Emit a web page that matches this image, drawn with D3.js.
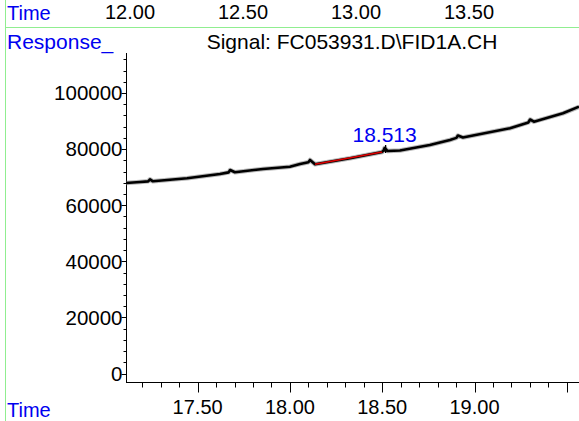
<!DOCTYPE html>
<html>
<head>
<meta charset="utf-8">
<script src="https://cdn.jsdelivr.net/npm/d3@7"></script>
<style>
	body { margin: 0; background: #fff; }
	text { font-family: "Liberation Sans", Arial, sans-serif; }
</style>
</head>
<body>
<svg id="chart" width="579" height="421"></svg>
<script>
// signal trace (minutes, counts)
const sigTime = [17.112, 17.188, 17.232, 17.242, 17.258, 17.443, 17.621, 17.668, 17.676, 17.702, 17.854, 18.000, 18.055, 18.100, 18.109, 18.136, 18.326, 18.500, 18.508, 18.513, 18.530, 18.596, 18.758, 18.867, 18.902, 18.910, 18.937, 19.192, 19.292, 19.301, 19.322, 19.479, 19.566];
const sigValue = [67900, 68270, 68500, 69230, 68520, 69590, 71120, 71700, 72550, 71730, 72910, 73730, 74690, 75300, 76120, 74580, 76720, 78970, 79600, 80400, 79300, 79500, 81460, 83240, 84000, 84850, 84140, 87420, 89500, 90550, 89770, 92760, 95110];

// integration baseline under the peak
const baseTime = [18.136, 18.5];
const baseValue = [74580, 78970];

const peakTime = 18.513;
const peakValue = 80400;
const peakLabel = "18.513";

const xTickLabels = [17.5, 18.0, 18.5, 19.0];
const yTickLabels = [0, 20000, 40000, 60000, 80000, 100000];
const topTickLabels = [12.0, 12.5, 13.0, 13.5];

const title = "Signal: FC053931.D\\FID1A.CH";

const svg = d3.select("#chart"),
	width = +svg.attr("width"),
	height = +svg.attr("height");

const blue = "#0000f0",
	green = "#90ee90",
	fs = 20;

const x = d3.scaleLinear().domain([17.112, 19.566]).range([126, 579]);
const y = d3.scaleLinear().domain([0, 114260]).range([373.5, 53]);
const xTop = d3.scaleLinear().domain([12.0, 13.5]).range([130, 469]);
const axisY = 382;

// green frame lines
svg.append("line")
	.attr("x1", 5.5).attr("x2", 5.5)
	.attr("y1", 0).attr("y2", height)
	.attr("stroke", green);
svg.append("line")
	.attr("x1", 5).attr("x2", width)
	.attr("y1", 27.5).attr("y2", 27.5)
	.attr("stroke", green);

// top time strip
svg.append("text")
	.attr("x", 7).attr("y", 20)
	.attr("fill", blue).attr("font-size", fs)
	.text("Time");
svg.append("g")
	.selectAll("text")
	.data(topTickLabels)
	.enter()
	.append("text")
	.attr("x", (d) => xTop(d))
	.attr("y", 19)
	.attr("text-anchor", "middle")
	.attr("font-size", fs)
	.text((d) => d.toFixed(2));

svg.append("text")
	.attr("x", 7).attr("y", 49)
	.attr("fill", blue).attr("font-size", 21)
	.text("Response_");
svg.append("text")
	.attr("x", 352).attr("y", 49)
	.attr("text-anchor", "middle")
	.attr("font-size", 21)
	.text(title);

// y axis
const yAxis = svg.append("g").attr("transform", "translate(126.5,0)");
yAxis.append("line")
	.attr("y1", 53).attr("y2", axisY)
	.attr("stroke", "#000");
yAxis.selectAll("line.minor")
	.data(d3.range(0, 114000, 4000))
	.enter()
	.append("line")
	.attr("class", "minor")
	.attr("x1", (d) => (d % 20000 === 0 ? -5 : -3))
	.attr("x2", 0)
	.attr("y1", (d) => Math.round(y(d)) + 0.5)
	.attr("y2", (d) => Math.round(y(d)) + 0.5)
	.attr("stroke", "#000");
yAxis.selectAll("text")
	.data(yTickLabels)
	.enter()
	.append("text")
	.attr("x", -4)
	.attr("y", (d) => y(d))
	.attr("dy", "0.36em")
	.attr("text-anchor", "end")
	.attr("font-size", 20.5)
	.text((d) => d);

// x axis
const xAxis = svg.append("g").attr("transform", `translate(0,${axisY + 0.5})`);
xAxis.append("line")
	.attr("x1", 126).attr("x2", width)
	.attr("stroke", "#000");
xAxis.selectAll("line.tick")
	.data(d3.range(17.2, 19.6, 0.1).map((d) => +d.toFixed(1)))
	.enter()
	.append("line")
	.attr("class", "tick")
	.attr("x1", (d) => Math.round(x(d)) + 0.5)
	.attr("x2", (d) => Math.round(x(d)) + 0.5)
	.attr("y1", 0)
	.attr("y2", (d) => (Math.round(d * 10) % 5 === 0 ? 10 : 5))
	.attr("stroke", "#000");
svg.append("g")
	.selectAll("text")
	.data(xTickLabels)
	.enter()
	.append("text")
	.attr("x", (d) => x(d))
	.attr("y", 414)
	.attr("text-anchor", "middle")
	.attr("font-size", fs)
	.text((d) => d.toFixed(2));
svg.append("text")
	.attr("x", 7).attr("y", 417)
	.attr("fill", blue).attr("font-size", fs)
	.text("Time");

// signal
const line = d3.line()
	.x((d) => x(d[0]))
	.y((d) => y(d[1]));

const sig = d3.zip(sigTime, sigValue);
svg.append("path")
	.datum(sig)
	.attr("d", line)
	.attr("fill", "none")
	.attr("stroke", "#888")
	.attr("stroke-opacity", 0.6)
	.attr("stroke-width", 4.5)
	.attr("stroke-linejoin", "round");
svg.append("path")
	.datum(sig)
	.attr("d", line)
	.attr("fill", "none")
	.attr("stroke", "#000")
	.attr("stroke-width", 2.6)
	.attr("stroke-linejoin", "round");

svg.append("path")
	.datum(d3.zip(baseTime, baseValue))
	.attr("d", line)
	.attr("fill", "none")
	.attr("stroke", "#e00000")
	.attr("stroke-width", 1.6);

// peak marker and label
const px = x(peakTime), py = y(peakValue);
svg.append("line")
	.attr("x1", px + 1).attr("x2", px + 1)
	.attr("y1", py - 3).attr("y2", py + 5)
	.attr("stroke", "#000").attr("stroke-width", 1.3);
svg.append("line")
	.attr("x1", px - 3).attr("x2", px + 8)
	.attr("y1", py + 3).attr("y2", py + 3)
	.attr("stroke", "#000").attr("stroke-width", 1.3);
svg.append("text")
	.attr("x", px)
	.attr("y", py - 6)
	.attr("text-anchor", "middle")
	.attr("fill", blue)
	.attr("font-size", 21)
	.text(peakLabel);
</script>
</body>
</html>
